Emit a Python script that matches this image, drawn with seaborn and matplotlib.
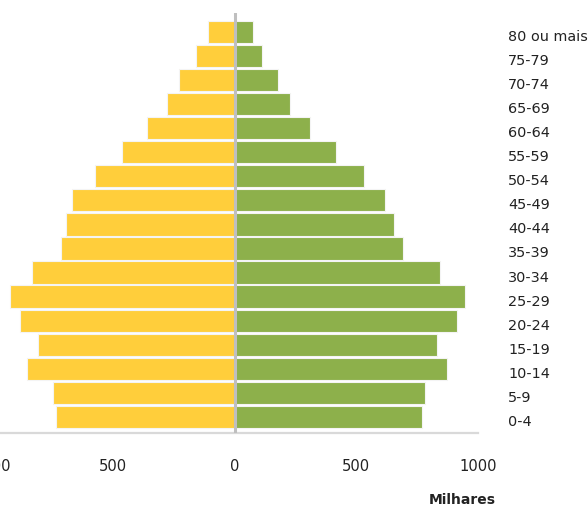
import matplotlib
matplotlib.use("Agg")
import matplotlib.pyplot as plt
import matplotlib.transforms as mtransforms
import seaborn as sns
import pandas as pd

age_groups = ["80 ou mais", "75-79", "70-74", "65-69", "60-64", "55-59", "50-54",
              "45-49", "40-44", "35-39", "30-34", "25-29", "20-24", "15-19",
              "10-14", "5-9", "0-4"]
left_values = [109, 159, 228, 280, 360, 463, 576, 668, 695, 714, 833, 925, 885, 811, 856, 746, 737]
right_values = [74, 114, 177, 229, 309, 417, 531, 617, 657, 691, 846, 949, 915, 834, 875, 783, 772]
tick_values = [-1000, -500, 0, 500, 1000]
tick_labels = ["1000", "500", "0", "500", "1000"]
x_title = "Milhares"

sns.set_style("white")
plt.rcParams["font.family"] = ["DejaVu Sans"]

df = pd.DataFrame({"idade": age_groups,
                   "esq": [-v for v in left_values],
                   "dir": right_values})

fig = plt.figure(figsize=(5.88, 5.08), dpi=100)
ax = fig.add_axes([-0.0141, 0.1486, 0.8265, 0.8252])

yellow = "#FFCE3B"
green = "#8DB04B"

sns.barplot(data=df, x="esq", y="idade", order=age_groups, color=yellow,
            saturation=1, orient="h", width=0.92, edgecolor="#f4f4f4",
            linewidth=0.8, ax=ax, errorbar=None)
sns.barplot(data=df, x="dir", y="idade", order=age_groups, color=green,
            saturation=1, orient="h", width=0.92, edgecolor="#f4f4f4",
            linewidth=0.8, ax=ax, errorbar=None)

ax.set_xlim(-1000, 1000)
ax.set_ylim(16.66, -0.79)

ax.axvline(0, color="#BFBFBF", linewidth=2.2, zorder=5)

for s in ["top", "right", "left"]:
    ax.spines[s].set_visible(False)
ax.spines["bottom"].set_color("#D9D9D9")
ax.spines["bottom"].set_linewidth(1.6)

ax.set_xticks(tick_values)
ax.set_xticklabels(tick_labels)
ax.tick_params(axis="x", length=0, pad=19, labelsize=10.6, labelcolor="#222222")
ax.set_yticks([])
ax.set_xlabel("")
ax.set_ylabel("")

trans = mtransforms.blended_transform_factory(fig.transFigure, ax.transData)
trans = trans + mtransforms.ScaledTranslation(0, -5 / 100, fig.dpi_scale_trans)
for i, lab in enumerate(age_groups):
    ax.text(508 / 588, i, lab, transform=trans, ha="left", va="center",
            fontsize=10.4, color="#222222", clip_on=False)

fig.text(462 / 588, 1 - 500 / 508, x_title, ha="center", va="center",
         fontsize=10, fontweight="bold", color="#222222")

fig.savefig("out.png", dpi=100)
